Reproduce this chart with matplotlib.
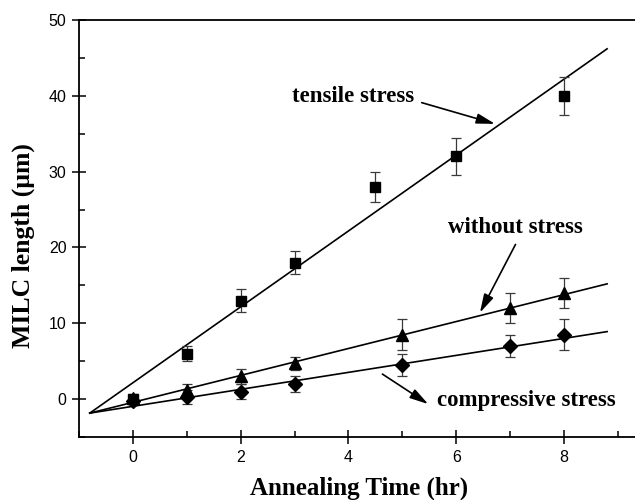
import matplotlib
matplotlib.use('Agg')
import matplotlib.pyplot as plt
from matplotlib.ticker import MultipleLocator

# data
x_tensile = [0, 1, 2, 3, 4.5, 6, 8]
y_tensile = [0, 6, 13, 18, 28, 32, 40]
e_tensile = [0.5, 1, 1.5, 1.5, 2, 2.5, 2.5]

x_other = [0, 1, 2, 3, 5, 7, 8]
y_without = [0.2, 1.2, 3, 4.7, 8.5, 12, 14]
e_without = [0.5, 0.8, 1, 0.8, 2, 2, 2]
y_compressive = [-0.2, 0.3, 1, 2, 4.5, 7, 8.5]
e_compressive = [0.5, 0.9, 1, 1, 1.5, 1.5, 2]

fit_x = [-0.8, 8.8]
fit_tensile = [-1.85, 46.2]
fit_without = [-1.85, 15.2]
fit_compressive = [-1.85, 8.9]

serif = 'Liberation Serif'
sans = 'Liberation Sans'

fig = plt.figure(figsize=(6.35, 5), dpi=100)
ax = fig.add_axes([79 / 635, 63 / 500, 561 / 635, 417 / 500])

for fy in (fit_tensile, fit_without, fit_compressive):
    ax.plot(fit_x, fy, color='black', lw=1.2, zorder=2)

ebkw = dict(ls='none', color='black', ecolor='#3a3a3a', elinewidth=0.9,
            capsize=3.5, capthick=0.9, zorder=3)
ax.errorbar(x_tensile, y_tensile, yerr=e_tensile, marker='s', ms=7.5, **ebkw)
ax.errorbar(x_other, y_without, yerr=e_without, marker='^', ms=8.5, **ebkw)
ax.errorbar(x_other, y_compressive, yerr=e_compressive, marker='D', ms=7, **ebkw)

ax.set_xlim(-1, 9.41)
ax.set_ylim(-5, 50)
ax.xaxis.set_major_locator(MultipleLocator(2))
ax.xaxis.set_minor_locator(MultipleLocator(1))
ax.yaxis.set_major_locator(MultipleLocator(10))
ax.yaxis.set_minor_locator(MultipleLocator(5))
ax.tick_params(which='major', direction='inout', length=10, width=1.1,
               labelsize=11.5, pad=4)
ax.tick_params(which='minor', direction='in', length=4.5, width=1.1)
ax.tick_params(top=False, right=False, which='both')
for lab in ax.get_xticklabels() + ax.get_yticklabels():
    lab.set_fontfamily(sans)
for s in ax.spines.values():
    s.set_linewidth(1.3)
ax.spines['right'].set_visible(False)

ax.set_xlabel('Annealing Time (hr)', fontfamily=serif, fontweight='bold',
              fontsize=18, labelpad=9)
ax.set_ylabel('MILC length (\u03bcm)', fontfamily=serif, fontweight='bold',
              fontsize=18.5, va='center')
ax.yaxis.set_label_coords(-0.1, 0.46)

tkw = dict(fontfamily=serif, fontweight='bold', fontsize=16.5,
           ha='center', va='center')
ax.text(4.09, 39.9, 'tensile stress', **tkw)
ax.text(7.1, 22.6, 'without stress', **tkw)
ax.text(7.3, -0.2, 'compressive stress', **tkw)

akw = dict(arrowstyle='-|>,head_length=0.8,head_width=0.22', color='black',
           lw=1.2, shrinkA=0, shrinkB=0, mutation_scale=14)
ax.annotate('', xy=(6.72, 36.3), xytext=(5.36, 39.1), arrowprops=akw)
ax.annotate('', xy=(6.44, 11.4), xytext=(7.1, 20.4), arrowprops=akw)
ax.annotate('', xy=(5.48, -0.66), xytext=(4.63, 3.3), arrowprops=akw)

fig.savefig('out.png', dpi=100)
